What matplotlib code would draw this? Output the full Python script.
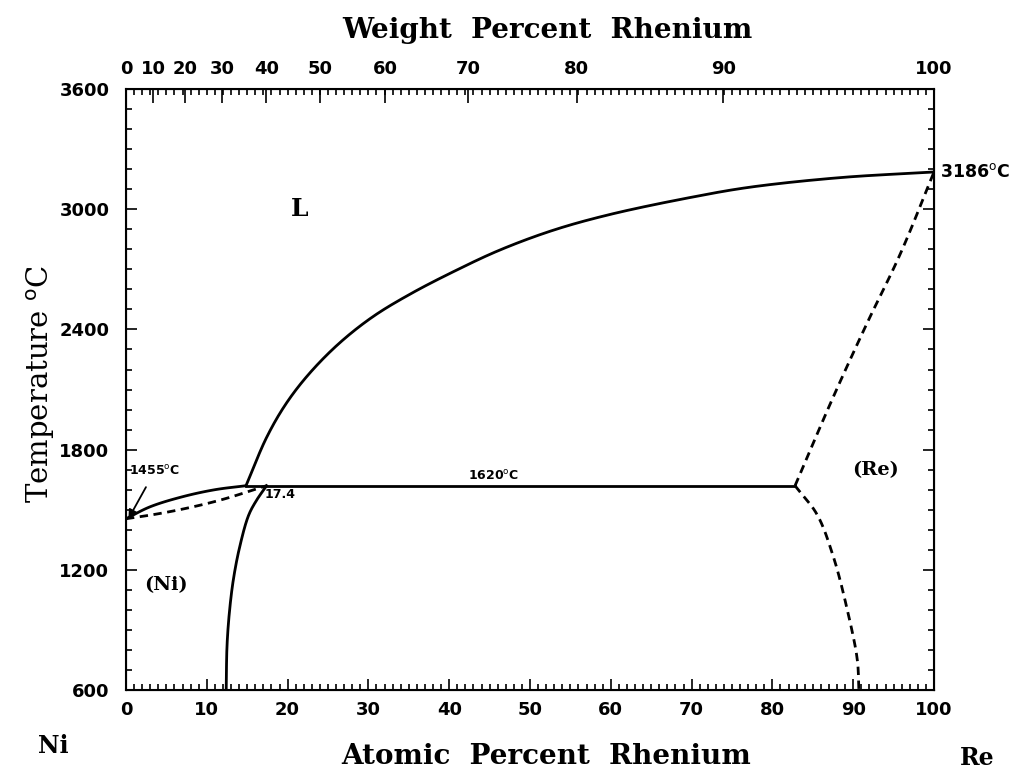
import numpy as np
import matplotlib.pyplot as plt
from matplotlib.ticker import MultipleLocator, FixedLocator

# atomic masses for the weight-percent scale on top
M_NI = 58.69
M_RE = 186.21

# liquidus, Ni side (at.% Re, deg C)
liq_ni_x = [0, 3, 7, 11, 14.85]
liq_ni_t = [1455, 1515, 1565, 1600, 1620]

# solidus, Ni side (dashed)
sol_ni_x = [0, 4, 8, 12, 17.4]
sol_ni_t = [1455, 1480, 1512, 1552, 1620]

# solvus of (Ni)
solv_ni_x = [17.4, 16.2, 15.2, 14.1, 13.3, 12.8, 12.5, 12.4]
solv_ni_t = [1620, 1550, 1475, 1320, 1155, 990, 820, 600]

# liquidus, Re side
liq_re_x = [14.85, 17.45, 19.9, 22.8, 26.5, 30.6, 35.1, 40.5, 46.3,
            53, 60, 70, 77.2, 88.4, 100]
liq_re_t = [1620, 1865, 2035, 2185, 2335, 2465, 2575, 2688, 2797,
            2897, 2975, 3060, 3110, 3158, 3186]

# peritectic line
perit_x = [14.85, 82.8]
perit_t = [1620, 1620]

# solidus of (Re) (dashed)
sol_re_x = [82.8, 87.5, 91.7, 95.8, 100]
sol_re_t = [1620, 2060, 2430, 2775, 3186]

# solvus of (Re) (dashed)
solv_re_x = [82.8, 85.5, 87.5, 89.2, 90.5, 90.7]
solv_re_t = [1620, 1478, 1271, 1012, 753, 600]

wt_ticks = [0, 10, 20, 30, 40, 50, 60, 70, 80, 90, 100]


def smooth(x, t, n=30):
    # centripetal Catmull-Rom through the read points, only for drawing
    p = np.column_stack([np.asarray(x, float) / 100, np.asarray(t, float) / 3000])
    p = np.vstack([2 * p[0] - p[1], p, 2 * p[-1] - p[-2]])
    out = [p[1]]
    for i in range(1, len(p) - 2):
        p0, p1, p2, p3 = p[i - 1], p[i], p[i + 1], p[i + 2]
        t0 = 0.0
        t1 = t0 + np.linalg.norm(p1 - p0) ** 0.5
        t2 = t1 + np.linalg.norm(p2 - p1) ** 0.5
        t3 = t2 + np.linalg.norm(p3 - p2) ** 0.5
        tt = np.linspace(t1, t2, n)[1:, None]
        a1 = (t1 - tt) / (t1 - t0) * p0 + (tt - t0) / (t1 - t0) * p1
        a2 = (t2 - tt) / (t2 - t1) * p1 + (tt - t1) / (t2 - t1) * p2
        a3 = (t3 - tt) / (t3 - t2) * p2 + (tt - t2) / (t3 - t2) * p3
        b1 = (t2 - tt) / (t2 - t0) * a1 + (tt - t0) / (t2 - t0) * a2
        b2 = (t3 - tt) / (t3 - t1) * a2 + (tt - t1) / (t3 - t1) * a3
        c = (t2 - tt) / (t2 - t1) * b1 + (tt - t1) / (t2 - t1) * b2
        out.extend(c)
    out = np.array(out)
    return out[:, 0] * 100, out[:, 1] * 3000


def wt_to_at(w):
    w = np.asarray(w, float)
    a = w / M_RE
    b = (100 - w) / M_NI
    return 100 * a / (a + b)


fig = plt.figure(figsize=(10.17, 7.71), dpi=100)
ax = fig.add_axes([0.1239, 0.105, 0.7945, 0.7795])

lw = 2.0
dash = (0, (3, 2))
ax.plot(*smooth(liq_ni_x, liq_ni_t), color='black', lw=lw)
ax.plot(*smooth(sol_ni_x, sol_ni_t), color='black', lw=lw, ls=dash)
ax.plot(*smooth(solv_ni_x, solv_ni_t), color='black', lw=lw)
ax.plot(*smooth(liq_re_x, liq_re_t), color='black', lw=lw)
ax.plot(perit_x, perit_t, color='black', lw=lw)
ax.plot(*smooth(sol_re_x, sol_re_t), color='black', lw=lw, ls=dash)
ax.plot(*smooth(solv_re_x, solv_re_t), color='black', lw=lw, ls=dash)

ax.set_xlim(0, 100)
ax.set_ylim(600, 3600)

ax.xaxis.set_major_locator(MultipleLocator(10))
ax.xaxis.set_minor_locator(MultipleLocator(1))
ax.yaxis.set_major_locator(MultipleLocator(600))
ax.yaxis.set_minor_locator(MultipleLocator(100))
ax.tick_params(which='both', direction='in', right=True, top=False,
               width=1.2, labelsize=13)
ax.tick_params(which='major', length=8)
ax.tick_params(which='minor', length=4)
for lab in ax.get_xticklabels() + ax.get_yticklabels():
    lab.set_fontweight('bold')
ax.tick_params(axis='x', pad=8)
ax.tick_params(axis='y', pad=12)
for sp in ax.spines.values():
    sp.set_linewidth(1.5)

# top axis: weight percent
top = ax.twiny()
top.set_xlim(0, 100)
top.xaxis.set_major_locator(FixedLocator(wt_to_at(wt_ticks)))
top.set_xticklabels([str(w) for w in wt_ticks], fontsize=13, fontweight='bold')
top.xaxis.set_minor_locator(MultipleLocator(1))
top.tick_params(which='both', direction='in', width=1.2, pad=8)
top.tick_params(which='major', length=10)
top.tick_params(which='minor', length=4)
top.set_xlabel('Weight  Percent  Rhenium', family='DejaVu Serif',
               fontsize=20, fontweight='bold')
top.xaxis.set_label_coords(0.522, 1.085)

ax.set_xlabel('Atomic  Percent  Rhenium', family='DejaVu Serif',
              fontsize=20, fontweight='bold')
ax.xaxis.set_label_coords(0.52, -0.088)
ax.set_ylabel('Temperature $^{\\mathrm{o}}$C', family='DejaVu Serif',
              fontsize=21)
ax.yaxis.set_label_coords(-0.086, 0.51)

serif = 'DejaVu Serif'
ax.text(21.5, 3000, 'L', family=serif, fontsize=18, fontweight='bold',
        ha='center', va='center')
ax.text(5.0, 1124, '(Ni)', family=serif, fontsize=14, fontweight='bold',
        ha='center', va='center')
ax.text(92.7, 1698, '(Re)', family=serif, fontsize=14, fontweight='bold',
        ha='center', va='center')
ax.text(45.5, 1668, '1620$^{\\mathrm{o}}$C', fontsize=9,
        fontweight='bold', ha='center', va='center')
ax.text(17.2, 1575, '17.4', fontsize=9,
        fontweight='bold', ha='left', va='center')
ax.annotate('1455$^{\\mathrm{o}}$C', xy=(0.3, 1455), xytext=(0.4, 1692),
            fontsize=9, fontweight='bold', ha='left', va='center',
            arrowprops=dict(arrowstyle='-|>', color='black', lw=1.3,
                            shrinkA=5, shrinkB=0, mutation_scale=13))
ax.text(100.8, 3186, '3186$^{\\mathrm{o}}$C', fontsize=12.5,
        fontweight='bold', ha='left', va='center', clip_on=False)

fig.text(0.037, 0.033, 'Ni', family=serif, fontsize=17, fontweight='bold',
         ha='left', va='center')
fig.text(0.944, 0.017, 'Re', family=serif, fontsize=17, fontweight='bold',
         ha='left', va='center')

fig.savefig('out.png', dpi=100)
